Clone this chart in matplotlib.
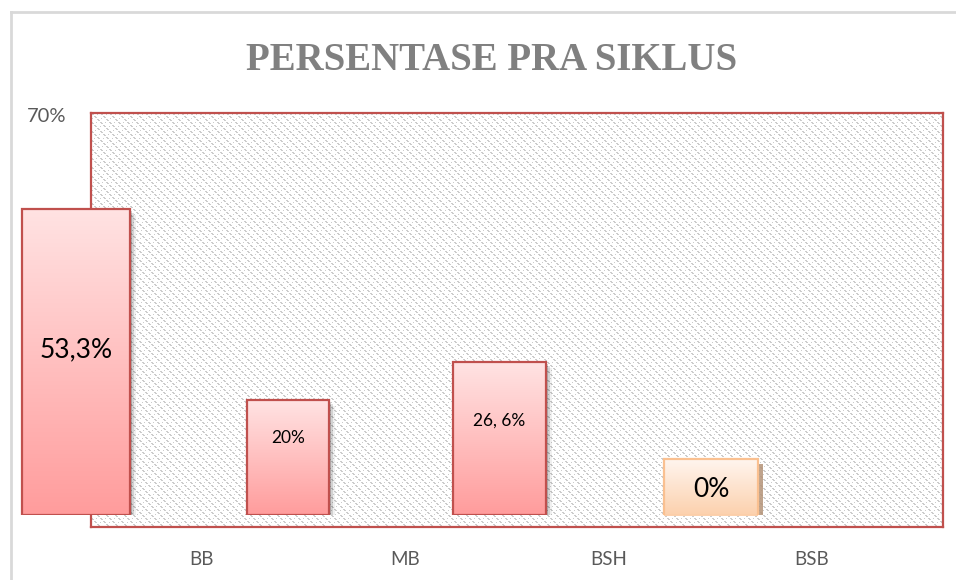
import matplotlib.pyplot as plt
import matplotlib.transforms as mtransforms
import numpy as np
from matplotlib.colors import LinearSegmentedColormap
from matplotlib.lines import Line2D

plt.rcParams["font.family"] = ["Lato", "DejaVu Sans"]

categories = ["BB", "MB", "BSH", "BSB"]
values = [53.3, 20.0, 26.6, 0.0]
value_labels = ["53,3%", "20%", "26, 6%", "0%"]
y_max_label = "70%"
title = "PERSENTASE PRA SIKLUS"

# style
bar_widths = [0.51, 0.387, 0.44, 0.444]
label_sizes = [19, 12.5, 12.5, 19]
label_frac = [0.54, 0.67, 0.62]
RED_EDGE = "#C0504D"
W, H = 956, 580

fig = plt.figure(figsize=(W / 100, H / 100), dpi=100)


def px_axes(x0, y0, x1, y1):
    return fig.add_axes([x0 / W, 1 - y1 / H, (x1 - x0) / W, (y1 - y0) / H])


# outer frame (left + top only)
fig.add_artist(Line2D([10.5 / W, 1], [1 - 11.5 / H] * 2, color="#d9d9d9", lw=2))
fig.add_artist(Line2D([10.5 / W] * 2, [0, 1 - 11.5 / H], color="#d9d9d9", lw=2))

# plot area with dotted diagonal texture and category ticks
ax = px_axes(91, 113, 943, 527)
ax.set_xlim(-0.546, 3.645)
ax.set_ylim(0, 1)
rr, cc = np.mgrid[0:414, 0:852]
d = (cc - rr) % 9
dots = ((d <= 1) & (rr % 3 != 2)) | ((d == 5) & (rr % 4 == 1))
tex = np.where(dots, 0.80, 1.0)
ax.imshow(tex, cmap="gray", vmin=0, vmax=1, interpolation="nearest", aspect="auto",
          extent=[-0.546, 3.645, 0, 1], zorder=0)
for s in ax.spines.values():
    s.set_color(RED_EDGE)
    s.set_linewidth(1.6)
ax.set_xticks(range(len(categories)))
ax.set_xticklabels(categories, fontsize=13.5, color="#595959")
ax.tick_params(axis="x", length=0, pad=17)
ax.set_yticks([])

# bars axes (own scale: 0..70 %)
ax2 = px_axes(0, 113, W, 515)
ax2.axis("off")
ax2.patch.set_visible(False)

red_cmap = LinearSegmentedColormap.from_list("r", ["#FF9C9C", "#FFE3E3"])
org_cmap = LinearSegmentedColormap.from_list("o", ["#FCD0AC", "#FFF6F0"])
grad = np.linspace(0, 1, 256).reshape(-1, 1)
shadow_tr = mtransforms.offset_copy(ax2.transData, fig=fig, x=5, y=-5, units="dots")

x = np.arange(len(categories))
for i in range(3):
    v = values[i]
    w = bar_widths[i]
    for k, a in enumerate([0.18, 0.12, 0.06]):
        sh = mtransforms.offset_copy(ax2.transData, fig=fig, x=2 + 2 * k, y=-2 - 2 * k, units="dots")
        ax2.add_patch(plt.Rectangle((x[i] - w / 2, 0), w, v, transform=sh,
                                    facecolor="black", alpha=a, lw=0, zorder=1))
    bar = ax2.bar(x[i], v, width=w, facecolor="none", edgecolor=RED_EDGE, lw=1.6, zorder=4)[0]
    im = ax2.imshow(grad, cmap=red_cmap, origin="lower", aspect="auto",
                    extent=[x[i] - w / 2, x[i] + w / 2, 0, v], zorder=3)
    im.set_clip_path(bar)
    ax2.text(x[i], v * label_frac[i], value_labels[i], ha="center", va="center",
             fontsize=label_sizes[i], color="black", zorder=5)

# zero-value label box
i = 3
w = bar_widths[i]
y0, y1 = values[i] - 0.2, values[i] + 9.75
ax2.add_patch(plt.Rectangle((x[i] - w / 2, y0), w, y1 - y0, transform=shadow_tr,
                            facecolor="#B49378", alpha=0.85, lw=0, zorder=1))
box = plt.Rectangle((x[i] - w / 2, y0), w, y1 - y0, facecolor="none",
                    edgecolor="#FAC090", lw=1.6, zorder=4)
ax2.add_patch(box)
im = ax2.imshow(grad, cmap=org_cmap, origin="lower", aspect="auto",
                extent=[x[i] - w / 2, x[i] + w / 2, y0, y1], zorder=3)
im.set_clip_path(box)
ax2.text(x[i], (y0 + y1) / 2 - 0.4, value_labels[i], ha="center", va="center",
         fontsize=label_sizes[i], color="black", zorder=5)
ax2.set_xlim(-76 / 211.7, (W - 76) / 211.7)
ax2.set_ylim(0, 70)

fig.text(47 / W, 1 - 117 / H, y_max_label, ha="center", va="center",
         fontsize=14.5, color="#595959")
fig.text(492 / W, 1 - 60 / H, title, ha="center", va="center", fontsize=28,
         fontweight="bold", color="#808080", family=["Liberation Serif", "DejaVu Serif"])

fig.savefig("out.png", dpi=100, facecolor="white")
